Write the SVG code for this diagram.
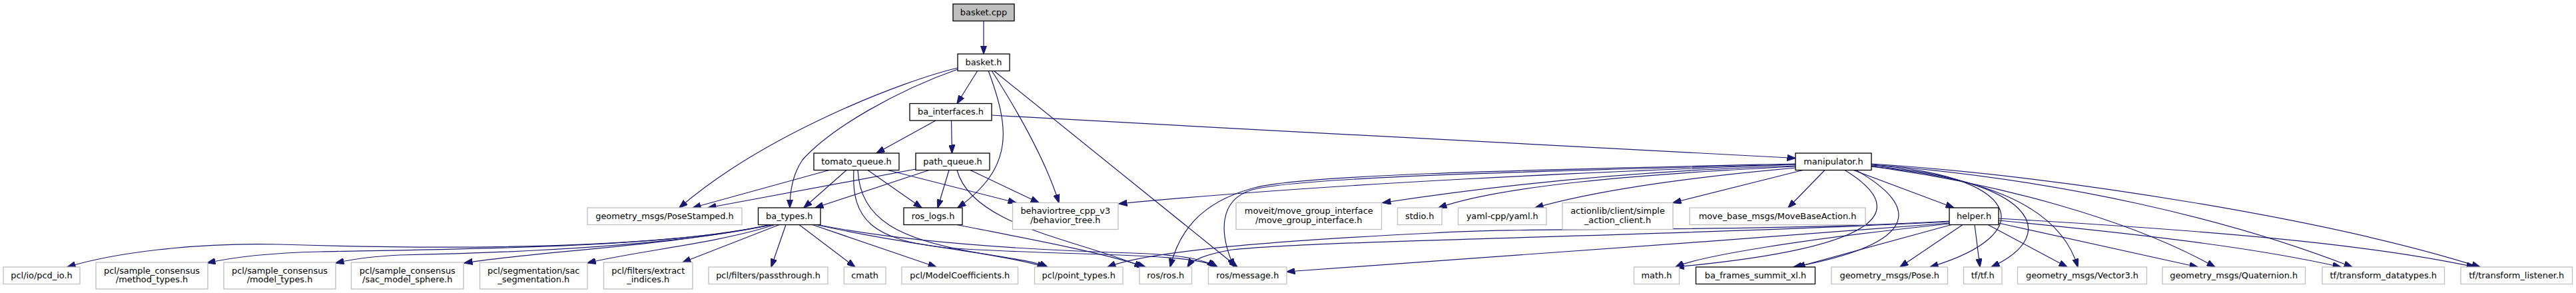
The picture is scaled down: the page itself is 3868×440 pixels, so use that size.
<svg xmlns="http://www.w3.org/2000/svg" width="3868" height="440" viewBox="0 0 3868 440">
<style>
.n rect{fill:#ffffff;stroke:#bfbfbf;stroke-width:1.3}
.d rect{fill:#ffffff;stroke:#000000;stroke-width:1.3}
.r rect{fill:#bfbfbf;stroke:#000000;stroke-width:1.3}
text{font-family:"DejaVu Sans","Liberation Sans",sans-serif;font-size:12.9px;text-anchor:middle;fill:#000000}
#edges path{fill:none;stroke:#191970;stroke-width:1.2;marker-end:url(#arr)}
</style>
<defs>
<marker id="arr" viewBox="0 0 13 9.4" refX="12.5" refY="4.7" markerWidth="13" markerHeight="9.4" markerUnits="userSpaceOnUse" orient="auto">
<path d="M0,0 L13,4.7 L0,9.4 z" fill="#191970" stroke="#191970" stroke-width="1"/>
</marker>
</defs>
<rect width="3868" height="440" fill="#ffffff"/>
<g id="edges">
<path d="M1477,31.3 L1477,81"/>
<path d="M1468,106 L1437,155.5"/>
<path d="M1438,102 C1360,120 1150,200 1020,312"/>
<path d="M1438,104 C1350,135 1250,190 1205,240 C1190,262 1186,290 1186,312"/>
<path d="M1484,106 C1515,190 1525,250 1438,312"/>
<path d="M1489,106 C1530,170 1570,240 1590,304.5"/>
<path d="M1492,106 L1858,401"/>
<path d="M1405,181 L1316,230"/>
<path d="M1428.5,181 L1429.5,230"/>
<path d="M1489,173 C1900,196 2400,222 2696,237.5"/>
<path d="M1245,255.5 L1040,312"/>
<path d="M1271,255.5 L1207,312"/>
<path d="M1303,255.5 L1384,312"/>
<path d="M1333,255.5 L1526,304.5"/>
<path d="M1288,255.5 C1292,330 1350,360 1470,380 C1520,388 1555,393 1573,401"/>
<path d="M1282,255.5 C1278,330 1310,360 1420,372 C1600,385 1790,378 1828,401"/>
<path d="M1375,254 L1063,312"/>
<path d="M1395,255.5 L1224,312"/>
<path d="M1425,255.5 L1408,312"/>
<path d="M1457,255.5 L1560,304.5"/>
<path d="M1437,255.5 C1460,340 1620,360 1716,401"/>
<path d="M1437,337.5 C1550,360 1650,378 1720,401"/>
<path d="M1156,337.5 C1000,372 700,376 420,367 C290,364 170,380 101,401"/>
<path d="M1157,337.5 C1000,372 700,374 480,378 C400,380 350,386 311,395"/>
<path d="M1158,337.5 C1000,372 750,380 600,383 C560,385 530,389 504,395"/>
<path d="M1160,337.5 C1000,370 800,378 697,395"/>
<path d="M1163,337.5 C1080,365 950,378 882,395"/>
<path d="M1170,337.5 L1025,394"/>
<path d="M1180,337.5 L1158,401"/>
<path d="M1200,337.5 L1284,401"/>
<path d="M1220,337.5 L1406,401"/>
<path d="M1226,337.5 C1360,368 1500,380 1570,401"/>
<path d="M1228,337.5 C1380,368 1600,377 1700,380 C1780,383 1810,390 1825,401"/>
<path d="M2696,247 C2400,258 2000,275 1680,306"/>
<path d="M2696,246 C2300,255 1950,262 1880,283 C1800,305 1770,350 1757,401"/>
<path d="M2696,247 C2300,257 1950,266 1880,285 C1830,300 1830,350 1853,401"/>
<path d="M2696,249 C2500,255 2300,270 2076,304.5"/>
<path d="M2696,250 C2450,262 2250,280 2160,312"/>
<path d="M2697,252 C2550,265 2400,285 2305,312"/>
<path d="M2707,255.5 L2512,304.5"/>
<path d="M2740,255.5 L2685,312"/>
<path d="M2783,255.5 L2934,312"/>
<path d="M2770,255.5 C2860,310 2850,370 2516,401"/>
<path d="M2787,255.5 C2900,320 2860,370 2693,401"/>
<path d="M2810,248 C3030,262 3070,350 2898,401"/>
<path d="M2810,249 C3050,270 3100,350 2990,401"/>
<path d="M2810,250 C2960,265 3090,300 3120,401"/>
<path d="M2810,250 C3000,275 3200,330 3326,401"/>
<path d="M2810,247 C3100,270 3350,330 3532,401"/>
<path d="M2810,246 C3100,265 3500,330 3724,401"/>
<path d="M2927,332 C2600,350 2300,340 2150,350 C1900,362 1720,378 1663,401"/>
<path d="M2927,333 C2500,355 2000,360 1850,375 C1810,382 1790,390 1783,401"/>
<path d="M2927,335 C2600,360 2200,390 1932,408"/>
<path d="M2927,336 C2700,360 2550,385 2516,401"/>
<path d="M2930,337.5 L2698,401"/>
<path d="M2947,337.5 L2853,401"/>
<path d="M2965,337.5 L2973,401"/>
<path d="M2985,337.5 L3104,401"/>
<path d="M3001,335 L3300,401"/>
<path d="M3001,331 C3250,355 3400,375 3515,401"/>
<path d="M3001,328 C3300,345 3550,365 3716,401"/>
</g>
<g id="node1" class="r"><rect x="1431" y="6" width="92" height="25.5"/><text x="1477" y="22.5">basket.cpp</text></g>
<g id="node2" class="d"><rect x="1438" y="81" width="78" height="25.5"/><text x="1477" y="97.5">basket.h</text></g>
<g id="node3" class="d"><rect x="1366" y="155.5" width="123" height="25.5"/><text x="1427.5" y="172">ba_interfaces.h</text></g>
<g id="node4" class="d"><rect x="1222" y="230" width="128" height="25.5"/><text x="1286" y="246.5">tomato_queue.h</text></g>
<g id="node5" class="d"><rect x="1375" y="230" width="111" height="25.5"/><text x="1430.5" y="246.5">path_queue.h</text></g>
<g id="node6" class="d"><rect x="2696" y="230" width="114" height="25.5"/><text x="2753" y="246.5">manipulator.h</text></g>
<g id="node7" class="n"><rect x="882" y="312" width="232" height="25.5"/><text x="998" y="328.5">geometry_msgs/PoseStamped.h</text></g>
<g id="node8" class="d"><rect x="1138.5" y="312" width="93.5" height="25.5"/><text x="1185.25" y="328.5">ba_types.h</text></g>
<g id="node9" class="d"><rect x="1357" y="312" width="88" height="25.5"/><text x="1401" y="328.5">ros_logs.h</text></g>
<g id="node10" class="n"><rect x="1520.5" y="304.5" width="158.5" height="40"/><text x="1599.75" y="321">behaviortree_cpp_v3</text><text x="1599.75" y="334.5">/behavior_tree.h</text></g>
<g id="node11" class="n"><rect x="1856" y="304.5" width="218.5" height="40"/><text x="1965.25" y="321">moveit/move_group_interface</text><text x="1965.25" y="334.5">/move_group_interface.h</text></g>
<g id="node12" class="n"><rect x="2098.5" y="312" width="66.5" height="25.5"/><text x="2131.75" y="328.5">stdio.h</text></g>
<g id="node13" class="n"><rect x="2189.5" y="312" width="132.5" height="25.5"/><text x="2255.75" y="328.5">yaml-cpp/yaml.h</text></g>
<g id="node14" class="n"><rect x="2346" y="304.5" width="166" height="40"/><text x="2429" y="321">actionlib/client/simple</text><text x="2429" y="334.5">_action_client.h</text></g>
<g id="node15" class="n"><rect x="2537" y="312" width="264" height="25.5"/><text x="2669" y="328.5">move_base_msgs/MoveBaseAction.h</text></g>
<g id="node16" class="d"><rect x="2927" y="312" width="74" height="25.5"/><text x="2964" y="328.5">helper.h</text></g>
<g id="node17" class="n"><rect x="5" y="401" width="115" height="25.5"/><text x="62.5" y="417.5">pcl/io/pcd_io.h</text></g>
<g id="node18" class="n"><rect x="144" y="394" width="168" height="40"/><text x="228" y="410.5">pcl/sample_consensus</text><text x="228" y="424">/method_types.h</text></g>
<g id="node19" class="n"><rect x="336" y="394" width="168" height="40"/><text x="420" y="410.5">pcl/sample_consensus</text><text x="420" y="424">/model_types.h</text></g>
<g id="node20" class="n"><rect x="527.5" y="394" width="168.5" height="40"/><text x="611.75" y="410.5">pcl/sample_consensus</text><text x="611.75" y="424">/sac_model_sphere.h</text></g>
<g id="node21" class="n"><rect x="720.5" y="394" width="161.5" height="40"/><text x="801.25" y="410.5">pcl/segmentation/sac</text><text x="801.25" y="424">_segmentation.h</text></g>
<g id="node22" class="n"><rect x="906.5" y="394" width="133.5" height="40"/><text x="973.25" y="410.5">pcl/filters/extract</text><text x="973.25" y="424">_indices.h</text></g>
<g id="node23" class="n"><rect x="1064" y="401" width="179" height="25.5"/><text x="1153.5" y="417.5">pcl/filters/passthrough.h</text></g>
<g id="node24" class="n"><rect x="1267.3" y="401" width="62.7" height="25.5"/><text x="1298.65" y="417.5">cmath</text></g>
<g id="node25" class="n"><rect x="1354" y="401" width="174.5" height="25.5"/><text x="1441.25" y="417.5">pcl/ModelCoefficients.h</text></g>
<g id="node26" class="n"><rect x="1553.5" y="401" width="132.5" height="25.5"/><text x="1619.75" y="417.5">pcl/point_types.h</text></g>
<g id="node27" class="n"><rect x="1711" y="401" width="78.5" height="25.5"/><text x="1750.25" y="417.5">ros/ros.h</text></g>
<g id="node28" class="n"><rect x="1814.5" y="401" width="117.5" height="25.5"/><text x="1873.25" y="417.5">ros/message.h</text></g>
<g id="node29" class="n"><rect x="2453.5" y="401" width="68" height="25.5"/><text x="2487.5" y="417.5">math.h</text></g>
<g id="node30" class="d"><rect x="2546.5" y="401" width="179" height="25.5"/><text x="2636" y="417.5">ba_frames_summit_xl.h</text></g>
<g id="node31" class="n"><rect x="2750" y="401" width="174.5" height="25.5"/><text x="2837.25" y="417.5">geometry_msgs/Pose.h</text></g>
<g id="node32" class="n"><rect x="2948.5" y="401" width="57.5" height="25.5"/><text x="2977.25" y="417.5">tf/tf.h</text></g>
<g id="node33" class="n"><rect x="3029.5" y="401" width="194" height="25.5"/><text x="3126.5" y="417.5">geometry_msgs/Vector3.h</text></g>
<g id="node34" class="n"><rect x="3247" y="401" width="214.5" height="25.5"/><text x="3354.25" y="417.5">geometry_msgs/Quaternion.h</text></g>
<g id="node35" class="n"><rect x="3487" y="401" width="183.5" height="25.5"/><text x="3578.75" y="417.5">tf/transform_datatypes.h</text></g>
<g id="node36" class="n"><rect x="3695" y="401" width="167.5" height="25.5"/><text x="3778.75" y="417.5">tf/transform_listener.h</text></g>
</svg>
